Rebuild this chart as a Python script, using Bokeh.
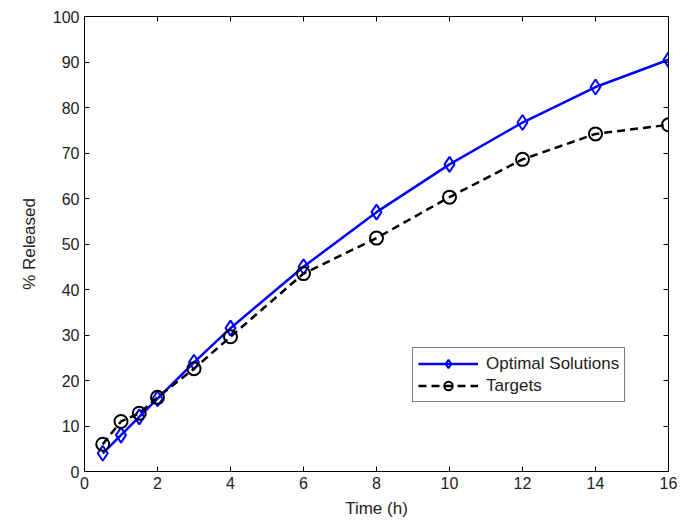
from bokeh.plotting import figure
from bokeh.models import LinearAxis, Range1d, FixedTicker, Legend, LegendItem
from bokeh.embed import file_html
from bokeh.resources import INLINE

time_h = [0.5, 1, 1.5, 2, 3, 4, 6, 8, 10, 12, 14, 16]
optimal = [4.0, 8.0, 12.0, 16.0, 24.0, 31.5, 45.0, 57.0, 67.5, 76.7, 84.5, 90.5]
targets = [6.0, 11.0, 12.8, 16.3, 22.6, 29.6, 43.5, 51.3, 60.3, 68.6, 74.2, 76.2]
x_ticks = [0, 2, 4, 6, 8, 10, 12, 14, 16]
y_ticks = [0, 10, 20, 30, 40, 50, 60, 70, 80, 90, 100]

FONT = "Liberation Sans"

p = figure(output_backend="svg", toolbar_location=None,
           frame_width=584, frame_height=455,
           min_border_left=84, min_border_right=14, min_border_top=16, min_border_bottom=48,
           x_range=Range1d(0, 16), y_range=Range1d(0, 100),
           x_axis_label="Time (h)", y_axis_label="% Released")
p.grid.visible = False
p.outline_line_color = "black"
p.outline_line_width = 1
p.background_fill_color = "white"

for ax in (p.xaxis[0], p.yaxis[0]):
    ax.major_tick_in = 5
    ax.major_tick_out = 0
    ax.minor_tick_line_color = None
    ax.axis_line_color = "black"
    ax.major_label_text_font = FONT
    ax.major_label_text_font_size = "16px"
    ax.major_label_text_color = "#222222"
    ax.axis_label_text_font = FONT
    ax.axis_label_text_font_size = "17px"
    ax.axis_label_text_font_style = "normal"
    ax.axis_label_text_color = "#222222"
p.xaxis[0].ticker = FixedTicker(ticks=x_ticks)
p.yaxis[0].ticker = FixedTicker(ticks=y_ticks)
p.xaxis[0].axis_label_standoff = 7
p.yaxis[0].axis_label_standoff = 11
p.xaxis[0].major_label_standoff = 5
p.yaxis[0].major_label_standoff = 5

top = LinearAxis(ticker=FixedTicker(ticks=x_ticks), major_label_text_font_size="0px",
                 major_tick_in=5, major_tick_out=0, minor_tick_line_color=None)
right = LinearAxis(ticker=FixedTicker(ticks=y_ticks), major_label_text_font_size="0px",
                   major_tick_in=5, major_tick_out=0, minor_tick_line_color=None)
top.major_label_text_color = None
right.major_label_text_color = None
p.add_layout(top, "above")
p.add_layout(right, "right")

l1 = p.line(time_h, optimal, line_color="#0000ff", line_width=2.5)
m1 = p.scatter(time_h, optimal, marker="diamond", size=15, line_color="#0000ff",
               line_width=2, fill_color=None)
l2 = p.line(time_h, targets, line_color="black", line_width=2.5, line_dash="8 5")
m2 = p.scatter(time_h, targets, marker="circle", size=13, line_color="black",
               line_width=2, fill_color=None)

legend = Legend(items=[LegendItem(label="Optimal Solutions", renderers=[l1, m1]),
                       LegendItem(label="Targets", renderers=[l2, m2])],
                location=(328, 69))
legend.label_text_font = FONT
legend.label_text_font_size = "17px"
legend.label_text_color = "#222222"
legend.border_line_color = "black"
legend.border_line_width = 1
legend.glyph_width = 60
legend.glyph_height = 21
legend.spacing = 1
legend.padding = 5
legend.margin = 0
legend.label_standoff = 8
p.add_layout(legend)

open("out.html", "w").write(file_html(p, INLINE))
